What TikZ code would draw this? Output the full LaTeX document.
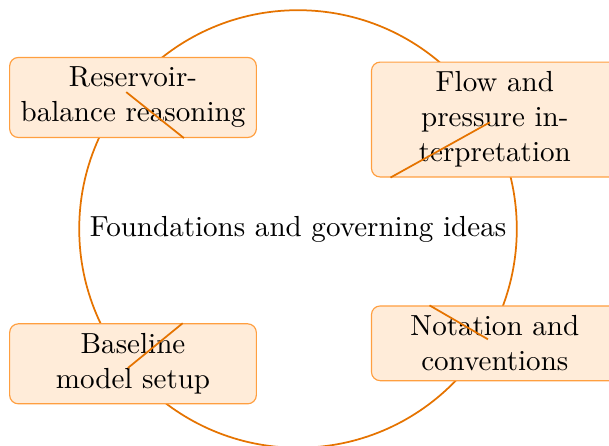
\documentclass[tikz,border=0pt]{standalone}
\begin{document}
\begin{tikzpicture}[semithick, hub/.style={circle,draw=orange!90!black}, topic/.style={rectangle,rounded corners=3pt,draw=orange!75,thin,fill=orange!15,text width=2.75cm,align=center}, link/.style={draw=orange!90!black}]
\useasboundingbox (-3.605,-2.625) rectangle (3.762,2.770);
\clip (-3.605,-2.625) rectangle (3.762,2.770);
\node[hub] (core) at (0,0) {Foundations and governing ideas};
\node[topic] (t1) at (-1.996,1.591) {Reservoir-\\balance reasoning};
\node[topic] (t2) at (2.381,1.324) {Flow and\\pressure in-\\terpretation};
\node[topic] (t3) at (2.381,-1.383) {Notation and\\conventions};
\node[topic] (t4) at (-1.996,-1.631) {Baseline\\model setup};
%edges from the hub
\draw [link] (core) -- (t1);
\draw [link] (core) -- (t2);
\draw [link] (core) -- (t3);
\draw [link] (core) -- (t4);
\end{tikzpicture}
\end{document}
